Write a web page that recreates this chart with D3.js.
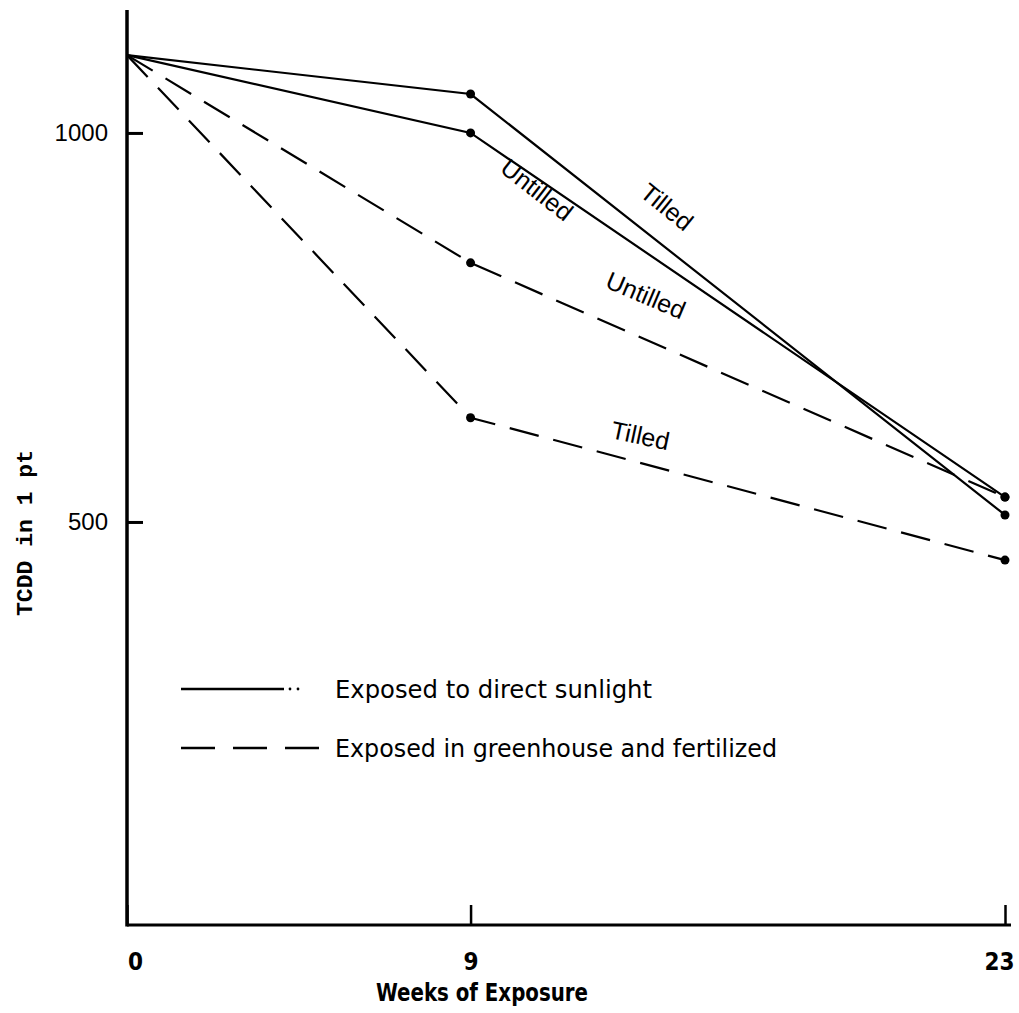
<!DOCTYPE html>
<html>
<head>
<meta charset="utf-8">
<script src="https://cdn.jsdelivr.net/npm/d3@7"></script>
<style>
  body { margin: 0; background: #fff; }
  svg { display: block; }
</style>
</head>
<body>
<div id="chart"></div>
<script>
const width = 1019,
  height = 1013;

// weeks of exposure and TCDD readings
const weeks = [0, 9, 23];
const sunTilled = [1100, 1050, 509];
const sunUntilled = [1100, 1000, 532];
const ghUntilled = [1100, 833, 532];
const ghTilled = [1100, 634, 451];

const yTicks = [500, 1000];
const xTicks = [0, 9, 23];

const series = [
  { name: "Tilled", vals: sunTilled, dashed: false, lab: [14.0, 896, 39] },
  { name: "Untilled", vals: sunUntilled, dashed: false, lab: [10.6, 918, 38] },
  { name: "Untilled", vals: ghUntilled, dashed: true, lab: [13.5, 781, 23] },
  { name: "Tilled", vals: ghTilled, dashed: true, lab: [13.4, 600, 12] }
];

const legendItems = [
  { label: "Exposed to direct sunlight", dashed: false, len: 317 },
  { label: "Exposed in greenhouse and fertilized", dashed: true, len: 442 }
];

const x = d3.scaleLinear().domain([0, 23]).range([127, 1005]);
const y = d3.scaleLinear().domain([-18, 1158]).range([925, 10]);

const svg = d3.select("#chart")
  .append("svg")
  .attr("width", width)
  .attr("height", height)
  .attr("viewBox", [0, 0, width, height]);

svg.append("rect").attr("width", width).attr("height", height).attr("fill", "#fff");

// axes (ticks pointing inward, like the original)
const yAxis = svg.append("g")
  .attr("transform", `translate(${x(0)},0)`)
  .call(d3.axisLeft(y).tickValues(yTicks).tickFormat(d3.format("d")).tickSizeInner(-16).tickSizeOuter(0).tickPadding(19))
yAxis.select(".domain").remove();
yAxis.selectAll("line").attr("stroke", "#000").attr("stroke-width", 3);
yAxis.selectAll("text")
  .attr("font-family", "Liberation Sans, Arial, sans-serif")
  .attr("font-size", 24)
  .attr("fill", "#000");

const xAxis = svg.append("g")
  .attr("transform", `translate(0,${y(-18)})`)
  .call(d3.axisBottom(x).tickValues(xTicks).tickFormat(d3.format("d")).tickSizeInner(-20).tickSizeOuter(0).tickPadding(28))
xAxis.select(".domain").remove();
xAxis.selectAll("line").attr("stroke", "#000").attr("stroke-width", 2.5);
xAxis.selectAll("text")
  .attr("font-family", "DejaVu Sans Condensed, sans-serif")
  .attr("font-weight", "bold")
  .attr("font-size", 24)
  .attr("fill", "#000")
  .attr("dx", d => d === 0 ? 8 : d === 23 ? -6 : 0);

// axis lines
svg.append("line")
  .attr("x1", x(0)).attr("x2", x(0))
  .attr("y1", 10).attr("y2", y(-18) + 1.5)
  .attr("stroke", "#000").attr("stroke-width", 3.5);
svg.append("line")
  .attr("x1", x(0)).attr("x2", 1011)
  .attr("y1", y(-18)).attr("y2", y(-18))
  .attr("stroke", "#000").attr("stroke-width", 3);

// axis titles
svg.append("text")
  .attr("x", 482)
  .attr("y", 1001)
  .attr("text-anchor", "middle")
  .attr("font-family", "DejaVu Sans Condensed, sans-serif")
  .attr("font-weight", "bold")
  .attr("font-size", 24)
  .attr("textLength", 212)
  .attr("lengthAdjust", "spacingAndGlyphs")
  .text("Weeks of Exposure");

svg.append("text")
  .attr("transform", "translate(32,533) rotate(-90)")
  .attr("text-anchor", "middle")
  .attr("font-family", "Liberation Mono, monospace")
  .attr("font-weight", "bold")
  .attr("font-size", 22)
  .attr("textLength", 166)
  .attr("lengthAdjust", "spacingAndGlyphs")
  .text("TCDD in 1 pt");

// the lines
const line = d3.line()
  .x((d, i) => x(weeks[i]))
  .y(d => y(d));

svg.append("g")
  .selectAll("path")
  .data(series)
  .join("path")
  .attr("d", d => line(d.vals))
  .attr("fill", "none")
  .attr("stroke", "#000")
  .attr("stroke-width", 2.2)
  .attr("stroke-dasharray", d => d.dashed ? "30,15" : null);

// points (skip the shared starting point)
svg.append("g")
  .selectAll("circle")
  .data(series.flatMap(s => s.vals.slice(1).map((v, i) => ({ wk: weeks[i + 1], v }))))
  .join("circle")
  .attr("cx", d => x(d.wk))
  .attr("cy", d => y(d.v))
  .attr("r", 4.5)
  .attr("fill", "#000");

// Tilled / Untilled labels along the lines
svg.append("g")
  .selectAll("text")
  .data(series)
  .join("text")
  .attr("transform", d => `translate(${x(d.lab[0])},${y(d.lab[1])}) rotate(${d.lab[2]})`)
  .attr("text-anchor", "middle")
  .attr("font-family", "Liberation Sans, Arial, sans-serif")
  .attr("font-size", 25)
  .text(d => d.name);

// legend
const lg = svg.append("g")
  .selectAll("g")
  .data(legendItems)
  .join("g")
  .attr("transform", (d, i) => `translate(181,${689 + i * 59})`);

lg.append("line")
  .attr("x1", 0).attr("x2", d => d.dashed ? 138 : 103)
  .attr("stroke", "#000")
  .attr("stroke-width", 2.5)
  .attr("stroke-dasharray", d => d.dashed ? "34,18" : null);

lg.filter(d => !d.dashed)
  .selectAll("circle")
  .data([109, 117])
  .join("circle")
  .attr("cx", d => d)
  .attr("r", 1.4);

lg.append("text")
  .attr("x", 154)
  .attr("y", 9)
  .attr("font-family", "DejaVu Sans Condensed, sans-serif")
  .attr("font-size", 25)
  .attr("textLength", d => d.len)
  .attr("lengthAdjust", "spacingAndGlyphs")
  .text(d => d.label);
</script>
</body>
</html>
